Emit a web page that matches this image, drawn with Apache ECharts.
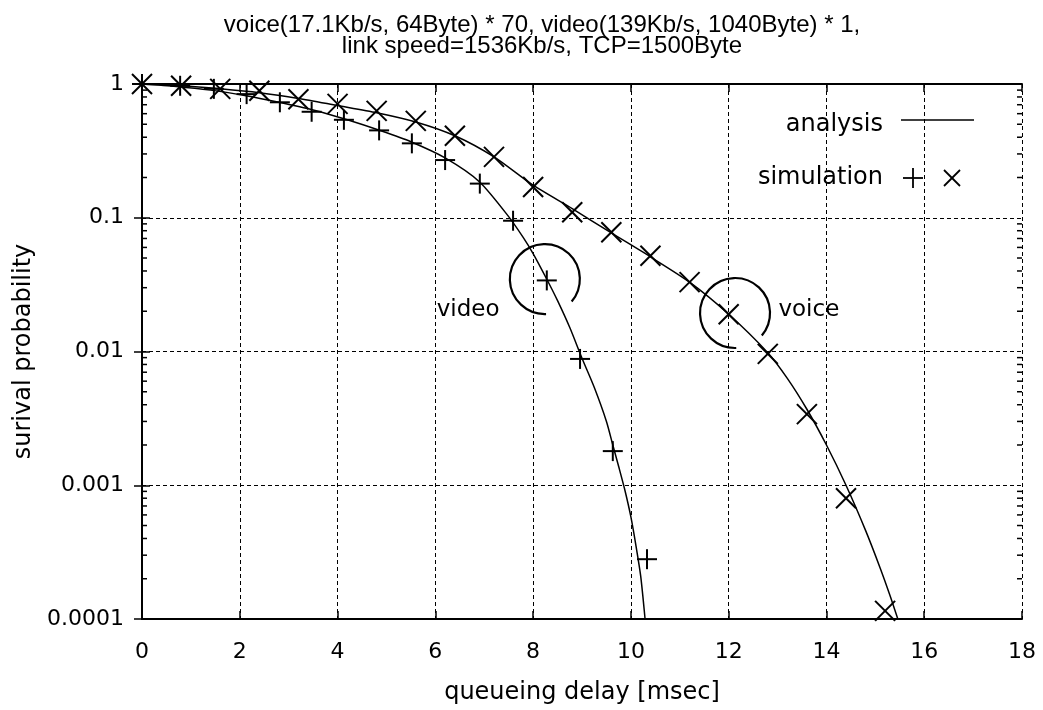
<!DOCTYPE html>
<html>
<head>
<meta charset="utf-8">
<script src="https://cdn.jsdelivr.net/npm/echarts@6/dist/echarts.min.js"></script>
<style>
  html, body { margin: 0; padding: 0; background: #fff; }
  #chart { width: 1043px; height: 710px; }
</style>
</head>
<body>
<div id="chart"></div>
<script>
// Survival probability of queueing delay: analytical curves and simulated points.
const chartTitle = 'voice(17.1Kb/s, 64Byte) * 70, video(139Kb/s, 1040Byte) * 1,\nlink speed=1536Kb/s, TCP=1500Byte';
const xAxisName = 'queueing delay [msec]';
const yAxisName = 'surival probability';
const yTickLabels = ['0.0001', '0.001', '0.01', '0.1', '1'];
const minorTickValues = [
  0.0002, 0.0003, 0.0004, 0.0005, 0.0006, 0.0007, 0.0008, 0.0009,
  0.002, 0.003, 0.004, 0.005, 0.006, 0.007, 0.008, 0.009,
  0.02, 0.03, 0.04, 0.05, 0.06, 0.07, 0.08, 0.09,
  0.2, 0.3, 0.4, 0.5, 0.6, 0.7, 0.8, 0.9
];

// analysis curves [delay msec, probability]
const videoAnalysis = [
  [0, 1], [0.7, 0.959], [1.4, 0.9], [2.1, 0.82], [2.8, 0.73], [3.5, 0.64],
  [4.2, 0.54], [4.9, 0.445], [5.5, 0.37], [6.2, 0.28], [6.9, 0.186],
  [7.5, 0.102], [7.8, 0.071], [8.0, 0.054], [8.28, 0.0347], [8.5, 0.024],
  [8.75, 0.0151], [9.0, 0.0089], [9.25, 0.0054], [9.5, 0.003], [9.63, 0.002],
  [9.75, 0.00138], [9.88, 0.00091], [10.0, 0.00058], [10.1, 0.00036],
  [10.2, 0.00021], [10.29, 0.0001]
];
const voiceAnalysis = [
  [0, 1], [0.8, 0.97], [1.6, 0.92], [2.4, 0.86], [3.2, 0.78], [4.0, 0.69],
  [4.8, 0.61], [5.6, 0.52], [6.4, 0.41], [7.2, 0.285], [8.0, 0.175],
  [8.8, 0.117], [9.6, 0.077], [10.4, 0.051], [11.2, 0.033], [12.0, 0.019],
  [12.8, 0.0098], [13.2, 0.0063], [13.6, 0.0037], [14.0, 0.002],
  [14.4, 0.001], [14.8, 0.00046], [15.1, 0.00024], [15.3, 0.00015],
  [15.46, 0.0001]
];

// simulation points
const videoSimulation = [
  [0, 1], [0.78, 0.97], [1.47, 0.92], [2.14, 0.84], [2.82, 0.73], [3.47, 0.62],
  [4.13, 0.54], [4.85, 0.45], [5.52, 0.36], [6.2, 0.27], [6.91, 0.18],
  [7.59, 0.095], [8.28, 0.034], [8.96, 0.0088], [9.63, 0.0018], [10.33, 0.00028]
];
const voiceSimulation = [
  [0, 1], [0.8, 0.97], [1.6, 0.92], [2.4, 0.89], [3.2, 0.77], [4.0, 0.71],
  [4.8, 0.63], [5.6, 0.53], [6.4, 0.41], [7.2, 0.285], [8.0, 0.17],
  [8.8, 0.11], [9.6, 0.078], [10.4, 0.052], [11.2, 0.033], [12.0, 0.019],
  [12.8, 0.0096], [13.6, 0.0034], [14.4, 0.0008], [15.2, 0.000115]
];

// callout rings around one point of each curve, and their captions
const calloutRings = [[8.24, 0.0348], [12.13, 0.0194]];
const calloutLabels = [[6.67, 0.0204, 'video'], [13.64, 0.0204, 'voice']];

const FONT = '"DejaVu Sans", Verdana, sans-serif';
const TITLE_FONT = '"Liberation Sans", Arial, Helvetica, sans-serif';
const INK = '#000';

const chart = echarts.init(document.getElementById('chart'), null, { renderer: 'canvas' });

function plusMark(params, api) {
  const c = api.coord([api.value(0), api.value(1)]);
  const h = 10;
  const st = { stroke: INK, lineWidth: 2 };
  return { type: 'group', children: [
    { type: 'line', shape: { x1: c[0] - h, y1: c[1], x2: c[0] + h, y2: c[1] }, style: st },
    { type: 'line', shape: { x1: c[0], y1: c[1] - h, x2: c[0], y2: c[1] + h }, style: st }
  ]};
}
function crossMark(params, api) {
  const c = api.coord([api.value(0), api.value(1)]);
  const h = 10;
  const st = { stroke: INK, lineWidth: 2 };
  return { type: 'group', children: [
    { type: 'line', shape: { x1: c[0] - h, y1: c[1] - h, x2: c[0] + h, y2: c[1] + h }, style: st },
    { type: 'line', shape: { x1: c[0] - h, y1: c[1] + h, x2: c[0] + h, y2: c[1] - h }, style: st }
  ]};
}
function ring(params, api) {
  const c = api.coord([api.value(0), api.value(1)]);
  return {
    type: 'arc',
    shape: { cx: c[0], cy: c[1], r: 35, startAngle: 88 * Math.PI / 180, endAngle: 400 * Math.PI / 180, clockwise: true },
    style: { stroke: INK, lineWidth: 2.2, fill: null }
  };
}
function caption(params, api) {
  const c = api.coord([api.value(0), api.value(1)]);
  return {
    type: 'text',
    x: c[0], y: c[1],
    style: { text: calloutLabels[params.dataIndex][2], fill: INK, font: '23px ' + FONT, align: 'center', verticalAlign: 'middle' }
  };
}
function minorTicks(params, api) {
  const v = api.value(0);
  const l = api.coord([0, v]);
  const r = api.coord([18, v]);
  const st = { stroke: INK, lineWidth: 1.5 };
  return { type: 'group', children: [
    { type: 'line', shape: { x1: l[0], y1: l[1], x2: l[0] + 5, y2: l[1] }, style: st },
    { type: 'line', shape: { x1: r[0], y1: r[1], x2: r[0] - 5, y2: r[1] }, style: st }
  ]};
}

const yLabel = v => yTickLabels[Math.round(Math.log10(v)) + 4];
const axisLineStyle = { show: true, lineStyle: { color: INK, width: 2 } };
const majorTick = { show: true, inside: true, length: 8, lineStyle: { color: INK, width: 1.5 } };
const dashed = { show: true, lineStyle: { color: INK, width: 1, type: [4, 3] } };

const option = {
  backgroundColor: '#fff',
  animation: false,
  title: {
    text: chartTitle,
    left: 537, top: 10, textAlign: 'center',
    textStyle: { fontFamily: TITLE_FONT, fontSize: 24, fontWeight: 'normal', color: INK, lineHeight: 21 }
  },
  grid: { left: 142, right: 21, top: 84, bottom: 91, containLabel: false },
  xAxis: [
    {
      type: 'value', min: 0, max: 18, interval: 2, position: 'bottom',
      name: xAxisName, nameLocation: 'middle', nameGap: 62,
      nameTextStyle: { fontFamily: FONT, fontSize: 24, color: INK },
      axisLine: axisLineStyle, axisTick: majorTick, splitLine: dashed,
      axisLabel: { fontFamily: FONT, fontSize: 22, color: INK, margin: 22 }
    },
    {
      type: 'value', min: 0, max: 18, interval: 2, position: 'top',
      axisLine: axisLineStyle, axisTick: majorTick, splitLine: { show: false },
      axisLabel: { show: false }
    }
  ],
  yAxis: [
    {
      type: 'log', logBase: 10, min: 0.0001, max: 1, position: 'left',
      name: yAxisName, nameLocation: 'middle', nameGap: 106, nameRotate: 90,
      nameTextStyle: { fontFamily: FONT, fontSize: 24, color: INK },
      axisLine: axisLineStyle, axisTick: majorTick, splitLine: dashed,
      axisLabel: { fontFamily: FONT, fontSize: 22, color: INK, margin: 18, formatter: yLabel }
    },
    {
      type: 'log', logBase: 10, min: 0.0001, max: 1, position: 'right',
      axisLine: axisLineStyle, axisTick: majorTick, splitLine: { show: false },
      axisLabel: { show: false }
    }
  ],
  series: [
    {
      name: 'minor ticks', type: 'custom', renderItem: minorTicks, silent: true,
      data: minorTickValues.map(v => [v]), encode: { y: 0 }, z: 1
    },
    {
      name: 'video analysis', type: 'line', data: videoAnalysis, showSymbol: false,
      smooth: 0.25, lineStyle: { color: INK, width: 1.5 }, z: 3
    },
    {
      name: 'voice analysis', type: 'line', data: voiceAnalysis, showSymbol: false,
      smooth: 0.25, lineStyle: { color: INK, width: 1.5 }, z: 3
    },
    { name: 'video simulation', type: 'custom', renderItem: plusMark, data: videoSimulation, z: 4 },
    { name: 'voice simulation', type: 'custom', renderItem: crossMark, data: voiceSimulation, z: 4 },
    { name: 'rings', type: 'custom', renderItem: ring, data: calloutRings, z: 5 },
    { name: 'captions', type: 'custom', renderItem: caption, data: calloutLabels.map(d => [d[0], d[1]]), z: 5 }
  ],
  graphic: [
    { type: 'text', x: 883, y: 125, style: { text: 'analysis', font: '24px ' + FONT, fill: INK, align: 'right', verticalAlign: 'middle' } },
    { type: 'line', shape: { x1: 901, y1: 120, x2: 974, y2: 120 }, style: { stroke: INK, lineWidth: 1.5 } },
    { type: 'text', x: 883, y: 178, style: { text: 'simulation', font: '24px ' + FONT, fill: INK, align: 'right', verticalAlign: 'middle' } },
    { type: 'line', shape: { x1: 903, y1: 178, x2: 923, y2: 178 }, style: { stroke: INK, lineWidth: 1.8 } },
    { type: 'line', shape: { x1: 913, y1: 168, x2: 913, y2: 188 }, style: { stroke: INK, lineWidth: 1.8 } },
    { type: 'line', shape: { x1: 944, y1: 170, x2: 960, y2: 186 }, style: { stroke: INK, lineWidth: 1.8 } },
    { type: 'line', shape: { x1: 944, y1: 186, x2: 960, y2: 170 }, style: { stroke: INK, lineWidth: 1.8 } }
  ]
};

chart.setOption(option);
</script>
</body>
</html>
